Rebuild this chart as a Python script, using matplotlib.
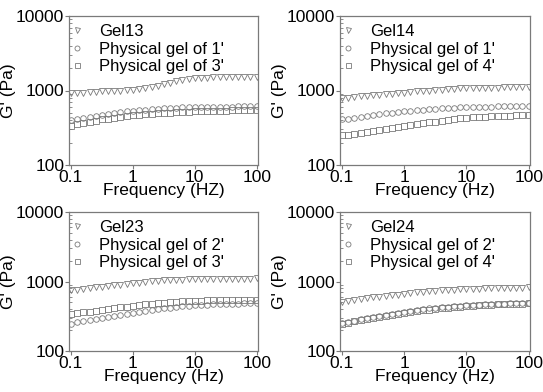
"""Storage modulus G' versus frequency for four gel systems."""

import matplotlib
matplotlib.use("Agg")
import matplotlib.pyplot as plt
from matplotlib.ticker import FixedLocator, LogLocator, NullFormatter

plt.rcParams["font.family"] = ["Liberation Sans", "DejaVu Sans"]

# frequency sweep, Hz (10 points per decade)
freq = [0.1, 0.126, 0.158, 0.2, 0.251, 0.316, 0.398, 0.501, 0.631, 0.794,
        1.0, 1.26, 1.58, 2.0, 2.51, 3.16, 3.98, 5.01, 6.31, 7.94,
        10.0, 12.6, 15.8, 20.0, 25.1, 31.6, 39.8, 50.1, 63.1, 79.4, 100.0]

# panel (a)
gel13 = [920, 930, 940, 950, 960, 970, 980, 990, 1000, 1010,
         1025, 1045, 1075, 1115, 1165, 1220, 1280, 1335, 1385, 1420,
         1450, 1475, 1490, 1500, 1505, 1510, 1515, 1520, 1520, 1525, 1525]
pg1_a = [400, 415, 430, 445, 460, 475, 490, 505, 515, 525,
         535, 545, 555, 565, 572, 580, 585, 590, 595, 598,
         600, 602, 604, 606, 607, 608, 609, 610, 610, 611, 612]
pg3_a = [335, 350, 365, 380, 395, 410, 420, 432, 443, 452,
         462, 470, 478, 486, 493, 500, 506, 512, 517, 521,
         525, 528, 531, 533, 535, 537, 539, 540, 542, 543, 545]

# panel (b)
gel14 = [790, 805, 820, 835, 850, 865, 880, 895, 910, 925,
         940, 955, 970, 985, 1000, 1015, 1030, 1045, 1055, 1065,
         1073, 1080, 1086, 1090, 1094, 1097, 1100, 1102, 1104, 1106, 1108]
pg1_b = [410, 420, 432, 444, 456, 468, 480, 492, 503, 514,
         525, 535, 545, 555, 563, 571, 578, 584, 590, 595,
         599, 602, 605, 607, 609, 611, 612, 613, 614, 615, 616]
pg4_b = [250, 256, 263, 270, 278, 286, 295, 304, 313, 322,
         332, 342, 352, 362, 372, 382, 392, 402, 412, 421,
         429, 436, 442, 447, 451, 455, 458, 461, 464, 467, 470]

# panel (c)
gel23 = [745, 765, 785, 805, 825, 845, 865, 885, 905, 925,
         945, 965, 985, 1005, 1020, 1035, 1048, 1058, 1066, 1073,
         1079, 1084, 1088, 1091, 1094, 1096, 1098, 1100, 1102, 1104, 1105]
pg2_c = [248, 258, 268, 278, 289, 300, 311, 322, 333, 344,
         355, 366, 377, 388, 399, 410, 420, 430, 439, 447,
         454, 460, 465, 469, 473, 476, 479, 482, 485, 487, 490]
pg3_c = [340, 350, 360, 370, 381, 392, 403, 414, 425, 436,
         447, 458, 468, 478, 488, 497, 505, 512, 518, 523,
         527, 530, 533, 535, 537, 538, 539, 540, 541, 542, 543]

# panel (d)
gel24 = [515, 530, 545, 560, 575, 590, 605, 620, 635, 650,
         665, 680, 695, 710, 723, 735, 746, 756, 765, 773,
         780, 786, 792, 797, 801, 805, 809, 812, 815, 818, 821]
pg2_d = [250, 262, 274, 286, 298, 310, 322, 334, 346, 357,
         368, 379, 389, 399, 409, 418, 427, 435, 443, 450,
         456, 461, 466, 470, 474, 477, 480, 483, 485, 487, 489]
pg4_d = [245, 255, 266, 277, 288, 299, 310, 321, 332, 343,
         354, 365, 375, 385, 395, 404, 413, 421, 429, 436,
         443, 449, 455, 460, 465, 469, 473, 476, 479, 482, 485]

panels = [
    (["Gel13", "Physical gel of 1'", "Physical gel of 3'"], [gel13, pg1_a, pg3_a], "Frequency (HZ)"),
    (["Gel14", "Physical gel of 1'", "Physical gel of 4'"], [gel14, pg1_b, pg4_b], "Frequency (Hz)"),
    (["Gel23", "Physical gel of 2'", "Physical gel of 3'"], [gel23, pg2_c, pg3_c], "Frequency (Hz)"),
    (["Gel24", "Physical gel of 2'", "Physical gel of 4'"], [gel24, pg2_d, pg4_d], "Frequency (Hz)"),
]
markers = ["v", "o", "s"]
# axes rectangles in pixels: left, top, right, bottom
boxes = [(69, 16, 258, 165), (340, 16, 530, 165), (69, 212, 258, 351), (340, 212, 530, 351)]

W, H = 543, 392
fig = plt.figure(figsize=(W / 100, H / 100), dpi=100)
grey = "#7a7a7a"

for (labels, series, xlabel), (l, t, r, b) in zip(panels, boxes):
    ax = fig.add_axes([l / W, 1 - b / H, (r - l) / W, (b - t) / H])
    for lab, vals, m in zip(labels, series, markers):
        ax.plot(freq, vals, linestyle="none", marker=m, markersize=4,
                markerfacecolor="none", markeredgecolor=grey,
                markeredgewidth=0.6, label=lab)
    ax.set_xscale("log")
    ax.set_yscale("log")
    ax.set_xlim(0.093, 105)
    ax.set_ylim(100, 10000)
    ax.xaxis.set_major_locator(FixedLocator([0.1, 1, 10, 100]))
    ax.set_xticklabels(["0.1", "1", "10", "100"])
    ax.yaxis.set_major_locator(FixedLocator([100, 1000, 10000]))
    ax.set_yticklabels(["100", "1000", "10000"])
    ax.xaxis.set_minor_locator(LogLocator(base=10, subs=range(2, 10)))
    ax.yaxis.set_minor_locator(LogLocator(base=10, subs=range(2, 10)))
    ax.xaxis.set_minor_formatter(NullFormatter())
    ax.yaxis.set_minor_formatter(NullFormatter())
    ax.tick_params(which="major", direction="out", length=3, width=0.8,
                   color=grey, labelsize=12.5, pad=0.5)
    ax.tick_params(which="minor", direction="in", length=2, width=0.6, color=grey)
    for sp in ax.spines.values():
        sp.set_color(grey)
        sp.set_linewidth(0.9)
    ax.set_xlabel(xlabel, fontsize=12.5, labelpad=-1)
    ax.set_ylabel("G' (Pa)", fontsize=12.5, labelpad=0)
    ax.legend(loc="upper left", bbox_to_anchor=(-0.037, 0.99), frameon=False,
              fontsize=12, handlelength=1.0, handletextpad=0.8,
              labelspacing=0.15, borderaxespad=0.0, borderpad=0.4,
              markerscale=0.9)

fig.savefig("out.png", dpi=100)
plt.close(fig)
